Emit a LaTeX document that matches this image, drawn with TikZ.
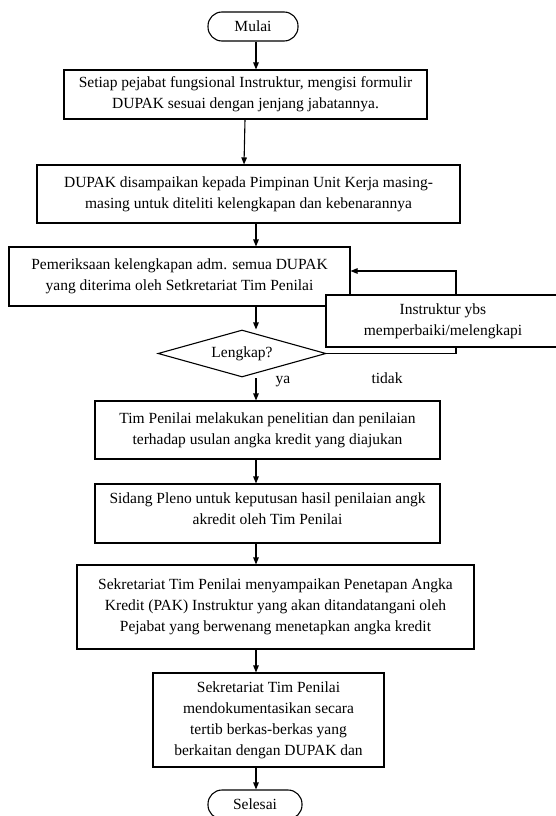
\documentclass[tikz,border=0pt]{standalone}
\usepackage{fontspec}
\setmainfont{Liberation Serif}
\usepackage{tikz}
\usetikzlibrary{arrows.meta, positioning, shapes.geometric}

\begin{document}
\begin{tikzpicture}[x=1pt, y=-1pt,
    txt/.style={font=\fontsize{15.5}{21}\selectfont, align=center, inner sep=0pt},
    stepbox/.style={txt, draw, line width=1.1pt, fill=white},
    terminal/.style={txt, draw, line width=1.1pt, rounded corners=14pt},
    decide/.style={txt, draw, line width=1.1pt, diamond, aspect=3.56},
    arr/.style={line width=1.1pt, -{Triangle[length=7pt, width=5.5pt]}}]
        \useasboundingbox (0,0) rectangle (556,816);
        \coordinate (spine) at (256,0);
        % Start and end
        \node[terminal, minimum width=90, minimum height=29] (mulai) at (253,26.5) {Mulai};
        \node[terminal, minimum width=94, minimum height=29] (selesai) at (255,804.5) {Selesai};
        % Steps
        \node[stepbox, minimum width=363, minimum height=49] (isi) at (245.5,94.5)
            {Setiap pejabat fungsional Instruktur, mengisi formulir\\DUPAK sesuai dengan jenjang jabatannya.};
        \node[stepbox, minimum width=423, minimum height=58] (kirim) at (248.5,194)
            {DUPAK disampaikan kepada Pimpinan Unit Kerja masing-\\masing untuk diteliti kelengkapan dan kebenarannya};
        \node[stepbox, minimum width=341, minimum height=59] (periksa) at (179.5,276.5)
            {Pemeriksaan kelengkapan adm. semua DUPAK\\yang diterima oleh Setkretariat Tim Penilai};
        \node[decide, minimum width=168, minimum height=47] (lengkap) at (242,353.5) {Lengkap?};
        \node[stepbox, minimum width=345, minimum height=58] (nilai) at (267.5,430)
            {Tim Penilai melakukan penelitian dan penilaian\\terhadap usulan angka kredit yang diajukan};
        \node[stepbox, minimum width=345, minimum height=59] (pleno) at (267.5,513.5)
            {Sidang Pleno untuk keputusan hasil penilaian angk\\akredit oleh Tim Penilai\\[-12pt]\mbox{}};
        \node[stepbox, minimum width=397, minimum height=84] (pak) at (275.5,607)
            {Sekretariat Tim Penilai menyampaikan Penetapan Angka\\Kredit (PAK) Instruktur yang akan ditandatangani oleh\\Pejabat yang berwenang menetapkan angka kredit};
        \node[stepbox, minimum width=231, minimum height=94] (arsip) at (268.5,720)
            {Sekretariat Tim Penilai\\mendokumentasikan secara\\tertib berkas-berkas yang\\berkaitan dengan DUPAK dan};
        % Loop back when not complete
        \coordinate (balik) at (456,271);
        \draw[arr] (lengkap.east) -| (balik) -- (periksa.east |- balik);
        \node[stepbox, minimum width=234, minimum height=52] (perbaiki) at (443,321)
            {Instruktur ybs\\memperbaiki/melengkapi};
        % Labels
        \node[txt] (ya) at (283,382) {ya};
        \node[txt] (tidak) at (387,378) {tidak};
        % Arrows
        \draw[arr] (mulai.south -| spine) -- (spine |- isi.north);
        \draw[arr] (isi.south -| 245,0) -- (244,0 |- kirim.north);
        \draw[arr] (kirim.south -| spine) -- (spine |- periksa.north);
        \draw[arr] (periksa.south -| spine) -- (spine |- lengkap.north);
        \draw[arr] (spine |- 0,378) -- (spine |- nilai.north);
        \draw[arr] (nilai.south -| spine) -- (spine |- pleno.north);
        \draw[arr] (pleno.south -| spine) -- (spine |- pak.north);
        \draw[arr] (pak.south -| spine) -- (spine |- arsip.north);
        \draw[arr] (arsip.south -| spine) -- (spine |- selesai.north);
      \end{tikzpicture}
\end{document}
